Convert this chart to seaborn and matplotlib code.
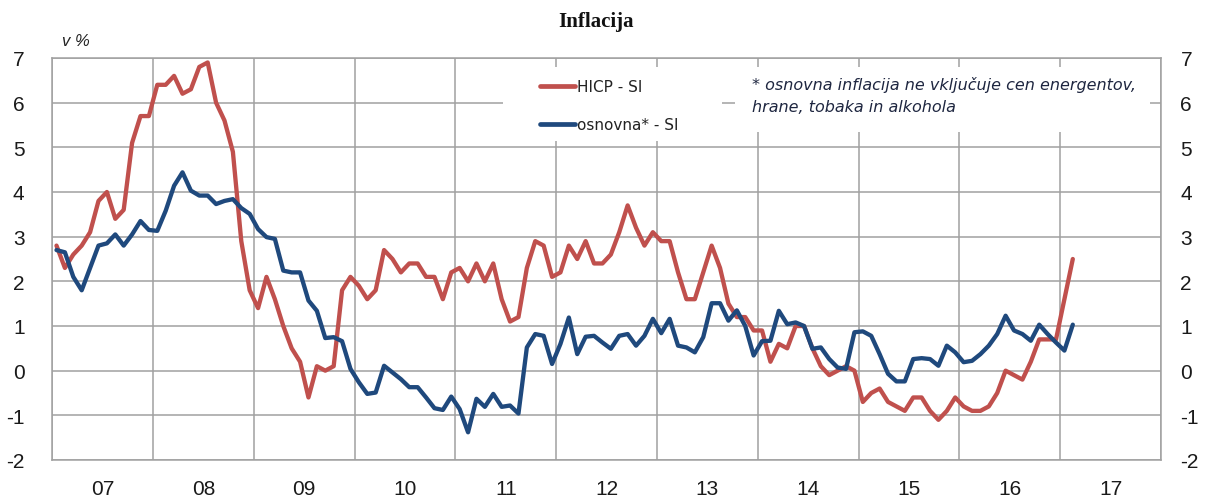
import numpy as np
import pandas as pd
import matplotlib
matplotlib.use("Agg")
import matplotlib.pyplot as plt
import seaborn as sns
from matplotlib.patches import Rectangle
from matplotlib.lines import Line2D

# ---------------- data (monthly, Jan 2007 - Feb 2017) ----------------
year_labels = ["07", "08", "09", "10", "11", "12", "13", "14", "15", "16", "17"]

hicp_si = [
    2.8, 2.3, 2.6, 2.8, 3.1, 3.8, 4.0, 3.4, 3.6, 5.1, 5.7, 5.7,          # 2007
    6.4, 6.4, 6.6, 6.2, 6.3, 6.8, 6.9, 6.0, 5.6, 4.9, 2.9, 1.8,          # 2008
    1.4, 2.1, 1.6, 1.0, 0.5, 0.2, -0.6, 0.1, 0.0, 0.1, 1.8, 2.1,         # 2009
    1.9, 1.6, 1.8, 2.7, 2.5, 2.2, 2.4, 2.4, 2.1, 2.1, 1.6, 2.2,          # 2010
    2.3, 2.0, 2.4, 2.0, 2.4, 1.6, 1.1, 1.2, 2.3, 2.9, 2.8, 2.1,          # 2011
    2.2, 2.8, 2.5, 2.9, 2.4, 2.4, 2.6, 3.1, 3.7, 3.2, 2.8, 3.1,          # 2012
    2.9, 2.9, 2.2, 1.6, 1.6, 2.2, 2.8, 2.3, 1.5, 1.2, 1.2, 0.9,          # 2013
    0.9, 0.2, 0.6, 0.5, 1.0, 1.0, 0.5, 0.1, -0.1, 0.0, 0.1, 0.0,         # 2014
    -0.7, -0.5, -0.4, -0.7, -0.8, -0.9, -0.6, -0.6, -0.9, -1.1, -0.9, -0.6,  # 2015
    -0.8, -0.9, -0.9, -0.8, -0.5, 0.0, -0.1, -0.2, 0.2, 0.7, 0.7, 0.7,   # 2016
    1.6, 2.5,                                                            # 2017
]

osnovna_si = [
    2.7, 2.65, 2.1, 1.8, 2.3, 2.8, 2.85, 3.05, 2.8, 3.05, 3.35, 3.15,    # 2007
    3.13, 3.58, 4.14, 4.44, 4.03, 3.92, 3.92, 3.73, 3.8, 3.84, 3.64, 3.51,  # 2008
    3.17, 2.99, 2.95, 2.24, 2.2, 2.2, 1.57, 1.34, 0.73, 0.75, 0.66, 0.04,   # 2009
    -0.26, -0.52, -0.49, 0.11, -0.04, -0.19, -0.37, -0.37, -0.6, -0.84, -0.88, -0.58,  # 2010
    -0.86, -1.38, -0.63, -0.81, -0.52, -0.81, -0.78, -0.96, 0.52, 0.82, 0.78, 0.15,   # 2011
    0.6, 1.19, 0.37, 0.76, 0.78, 0.63, 0.49, 0.78, 0.82, 0.56, 0.78, 1.16,  # 2012
    0.84, 1.16, 0.56, 0.52, 0.41, 0.75, 1.51, 1.51, 1.12, 1.35, 1.0, 0.34,  # 2013
    0.66, 0.67, 1.34, 1.04, 1.08, 1.0, 0.49, 0.52, 0.26, 0.07, 0.04, 0.86,  # 2014
    0.88, 0.78, 0.37, -0.07, -0.24, -0.24, 0.26, 0.28, 0.26, 0.11, 0.56, 0.41,  # 2015
    0.19, 0.22, 0.37, 0.56, 0.82, 1.23, 0.9, 0.82, 0.67, 1.03, 0.82, 0.63,  # 2016
    0.45, 1.03,                                                          # 2017
]

series_names = ["HICP - SI", "osnovna* - SI"]
note_lines = ["* osnovna inflacija ne vključuje cen energentov,",
              "hrane, tobaka in alkohola"]

# ---------------- styling ----------------
RED = "#C0504D"
BLUE = "#1F497D"
GRID = "#A0A0A0"

sns.set_theme(style="white")
plt.rcParams["font.family"] = ["Liberation Sans Narrow", "Liberation Sans", "DejaVu Sans"]

n = len(hicp_si)
months = np.arange(n)
df = pd.DataFrame({
    "mesec": np.concatenate([months, months]),
    "vrednost": hicp_si + osnovna_si,
    "serija": [series_names[0]] * n + [series_names[1]] * n,
})

W, H = 1207, 502
fig = plt.figure(figsize=(W / 100, H / 100), dpi=100)
L, R, T, B = 52.3, 1161.0, 59.0, 461.0
ax = fig.add_axes([L / W, 1 - B / H, (R - L) / W, (B - T) / H])

sns.lineplot(data=df, x="mesec", y="vrednost", hue="serija",
             palette={series_names[0]: RED, series_names[1]: BLUE},
             linewidth=3.1, ax=ax, legend=False, zorder=3)

n_slots = 12 * len(year_labels)
ax.set_xlim(-0.5, n_slots - 0.5)
ax.set_ylim(-2, 7)
ax.set_xlabel("")
ax.set_ylabel("")

# vertical grid at year boundaries, labels at year centres
ax.set_xticks([-0.5 + 12 * k for k in range(len(year_labels) + 1)])
ax.set_xticklabels([])
ax.set_xticks([5.5 + 12 * k for k in range(len(year_labels))], minor=True)
ax.set_xticklabels(year_labels, minor=True)
ax.tick_params(axis="x", which="both", length=0)
ax.tick_params(axis="x", which="minor", pad=14, labelsize=15, colors="#1a1a1a")

ax.set_yticks(range(-2, 8))
ax.set_yticklabels([str(v) for v in range(-2, 8)])
ax.tick_params(axis="y", length=0, pad=20, labelsize=15, colors="#1a1a1a")

ax.set_axisbelow(True)
ax.grid(True, which="major", color=GRID, linewidth=1.1)
for s in ax.spines.values():
    s.set_color(GRID)
    s.set_linewidth(1.1)

# right-hand duplicate axis labels
ax2 = ax.twinx()
ax2.set_ylim(-2, 7)
ax2.set_yticks(range(-2, 8))
ax2.set_yticklabels([str(v) for v in range(-2, 8)])
ax2.tick_params(axis="y", length=0, pad=14, labelsize=15, colors="#1a1a1a")
for s in ax2.spines.values():
    s.set_visible(False)
ax2.grid(False)

# helper: pixel -> axes fraction
def ax_x(px):
    return (px - L) / (R - L)

def ax_y(py):
    return (B - py) / (B - T)

# white boxes for legend and note (cover grid)
ax.add_patch(Rectangle((ax_x(503), ax_y(142)), ax_x(722) - ax_x(503), ax_y(68) - ax_y(142),
                       transform=ax.transAxes, facecolor="white", edgecolor="none", zorder=1.5))
ax.add_patch(Rectangle((ax_x(735), ax_y(133)), ax_x(1150) - ax_x(735), ax_y(68) - ax_y(133),
                       transform=ax.transAxes, facecolor="white", edgecolor="none", zorder=1.5))

handles = [Line2D([0], [0], color=RED, lw=3.4), Line2D([0], [0], color=BLUE, lw=3.4)]
leg = ax.legend(handles, series_names, loc="upper left",
                bbox_to_anchor=(ax_x(540), ax_y(80)), frameon=False,
                borderpad=0, borderaxespad=0, handlelength=2.3, handletextpad=0.12,
                labelspacing=1.5, prop={"family": "DejaVu Sans", "size": 11})
for t in leg.get_texts():
    t.set_color("#222222")
leg.set_zorder(4)

ax.text(ax_x(752), ax_y(85), note_lines[0], transform=ax.transAxes,
        fontsize=11.5, style="italic", family="DejaVu Sans", color="#1E2640",
        va="center", ha="left", zorder=4)
ax.text(ax_x(752), ax_y(107), note_lines[1], transform=ax.transAxes,
        fontsize=11.5, style="italic", family="DejaVu Sans", color="#1E2640",
        va="center", ha="left", zorder=4)

fig.text(596 / W, 1 - 22 / H, "Inflacija", ha="center", va="center",
         family="Liberation Serif", fontweight="bold", fontsize=15, color="#111111")
fig.text(62 / W, 1 - 42 / H, "v %", ha="left", va="center",
         style="italic", fontsize=12, color="#222222")

fig.savefig("out.png", dpi=100)
